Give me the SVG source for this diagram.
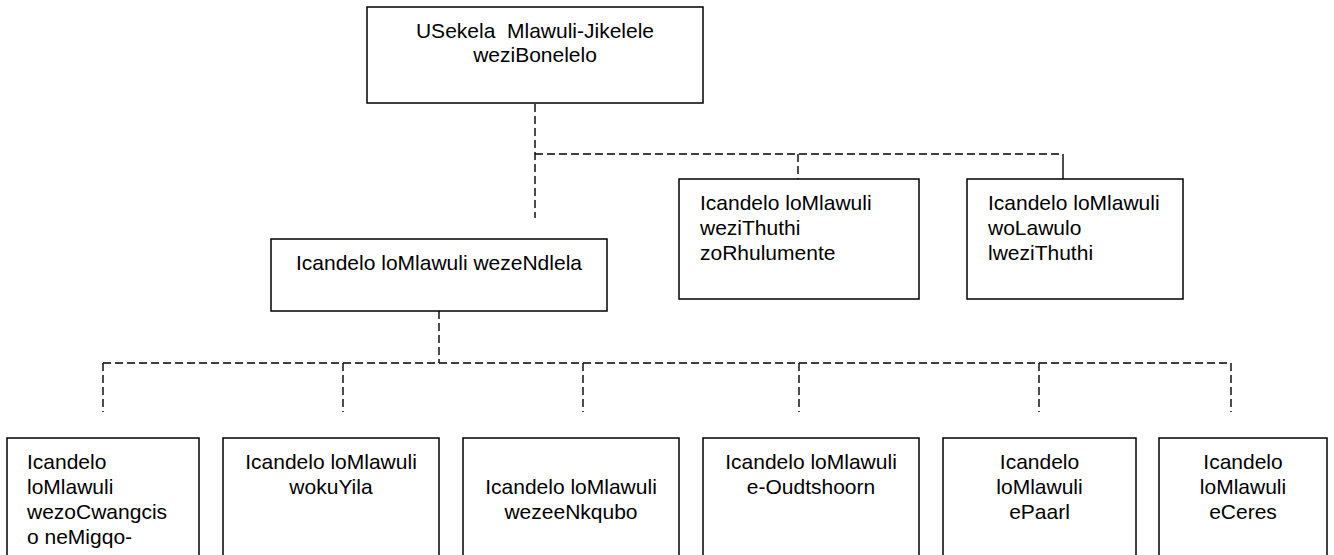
<svg xmlns="http://www.w3.org/2000/svg" width="1334" height="555" viewBox="0 0 1334 555">
<style>
.box{fill:#fff;stroke:#000;stroke-width:1.5}
.t{font-family:"Liberation Sans",Arial,sans-serif;font-size:21px;fill:#000}
.c{text-anchor:middle}
.d{fill:none;stroke:#000;stroke-width:1.4;stroke-dasharray:8 4}
.s{fill:none;stroke:#000;stroke-width:1.4}
</style>
<rect width="1334" height="555" fill="#fff"/>
<g id="connectors">
<path class="d" d="M535,104 V218"/>
<path class="d" d="M535,154 H1063"/>
<path class="d" d="M798,154 V179"/>
<path class="s" d="M1063,154 V179"/>
<path class="d" d="M439,311 V363"/>
<path class="d" d="M103,363 H1231"/>
<path class="d" d="M103,363 V412"/>
<path class="d" d="M343,363 V412"/>
<path class="d" d="M583,363 V412"/>
<path class="d" d="M799,363 V412"/>
<path class="d" d="M1039,363 V412"/>
<path class="d" d="M1231,363 V412"/>
</g>
<g id="n-top">
<rect class="box" x="367" y="7" width="336" height="96"/>
<text class="t c" x="535" y="38" xml:space="preserve">USekela  Mlawuli-Jikelele</text>
<text class="t c" x="535" y="62">weziBonelelo</text>
</g>
<g id="n-ndlela">
<rect class="box" x="271" y="239" width="336" height="72"/>
<text class="t c" x="439" y="270">Icandelo loMlawuli wezeNdlela</text>
</g>
<g id="n-thuthi">
<rect class="box" x="679" y="179" width="240" height="120"/>
<text class="t" x="700" y="210">Icandelo loMlawuli</text>
<text class="t" x="700" y="235">weziThuthi</text>
<text class="t" x="700" y="260">zoRhulumente</text>
</g>
<g id="n-lawulo">
<rect class="box" x="967" y="179" width="216" height="120"/>
<text class="t" x="988" y="210">Icandelo loMlawuli</text>
<text class="t" x="988" y="235">woLawulo</text>
<text class="t" x="988" y="260">lweziThuthi</text>
</g>
<g id="n-b1">
<rect class="box" x="7" y="438" width="192" height="130"/>
<text class="t" x="27" y="469">Icandelo</text>
<text class="t" x="27" y="494">loMlawuli</text>
<text class="t" x="27" y="519">wezoCwangcis</text>
<text class="t" x="27" y="544">o neMigqo-</text>
</g>
<g id="n-b2">
<rect class="box" x="223" y="438" width="216" height="130"/>
<text class="t c" x="331" y="469">Icandelo loMlawuli</text>
<text class="t c" x="331" y="494">wokuYila</text>
</g>
<g id="n-b3">
<rect class="box" x="463" y="438" width="216" height="130"/>
<text class="t c" x="571" y="494">Icandelo loMlawuli</text>
<text class="t c" x="571" y="519">wezeeNkqubo</text>
</g>
<g id="n-b4">
<rect class="box" x="703" y="438" width="216" height="130"/>
<text class="t c" x="811" y="469">Icandelo loMlawuli</text>
<text class="t c" x="811" y="494">e-Oudtshoorn</text>
</g>
<g id="n-b5">
<rect class="box" x="943" y="438" width="193" height="130"/>
<text class="t c" x="1039.5" y="469">Icandelo</text>
<text class="t c" x="1039.5" y="494">loMlawuli</text>
<text class="t c" x="1039.5" y="519">ePaarl</text>
</g>
<g id="n-b6">
<rect class="box" x="1159" y="438" width="168" height="130"/>
<text class="t c" x="1243" y="469">Icandelo</text>
<text class="t c" x="1243" y="494">loMlawuli</text>
<text class="t c" x="1243" y="519">eCeres</text>
</g>
</svg>
